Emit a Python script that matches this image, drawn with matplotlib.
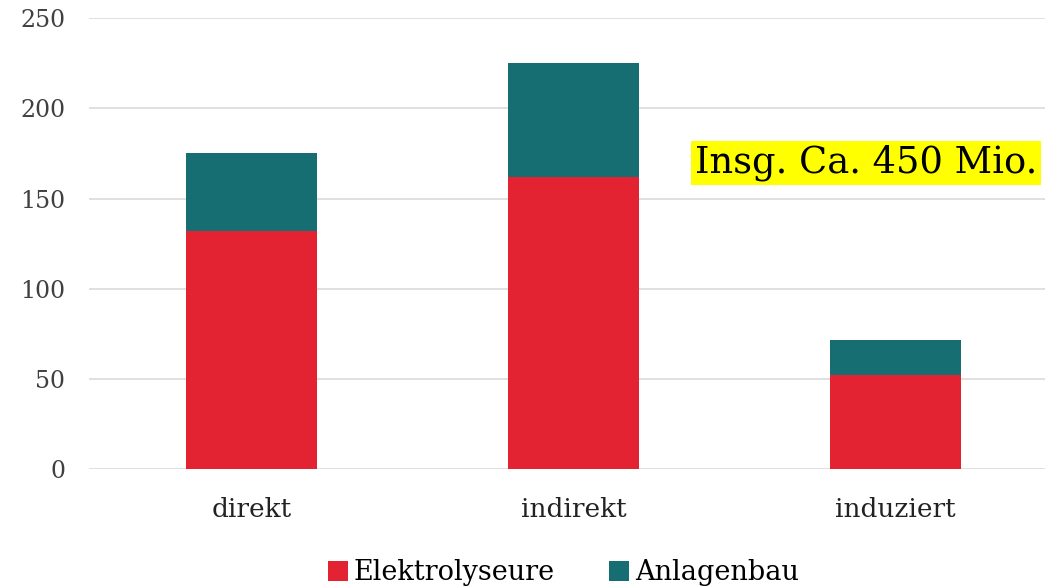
import matplotlib.pyplot as plt
import numpy as np

categories = ['direkt', 'indirekt', 'induziert']
elektrolyseure = [132, 162, 52]
anlagenbau = [43, 63, 19.5]
yticks = [0, 50, 100, 150, 200, 250]

red = '#E32232'
teal = '#176E72'

plt.rcParams['font.family'] = ['DejaVu Serif']

fig = plt.figure(figsize=(10.45, 5.87), dpi=100)
ax = fig.add_axes([0.085, 0.201, 0.915, 0.768])

x = np.arange(len(categories))
ax.bar(x, elektrolyseure, width=0.407, color=red, label='Elektrolyseure', zorder=3)
ax.bar(x, anlagenbau, width=0.407, bottom=elektrolyseure, color=teal,
       label='Anlagenbau', zorder=3)

ax.set_xlim(-0.505, 2.464)
ax.set_ylim(0, 250)
ax.set_yticks(yticks)
ax.set_xticks(x)
ax.set_xticklabels(categories, fontsize=19, color='#222222')
ax.tick_params(axis='y', length=0, pad=17, labelsize=17, labelcolor='#404040')
ax.tick_params(axis='x', length=0, pad=20)
ax.grid(axis='y', color='#dddddd', linewidth=1.3, zorder=0)
for s in ax.spines.values():
    s.set_visible(False)

fig.legend(loc='center', bbox_to_anchor=(0.539, 0.024), ncol=2, frameon=False,
           fontsize=19.5, handlelength=0.75, handleheight=0.75, handletextpad=0.2,
           columnspacing=2.0)

fig.text(0.665, 0.722, 'Insg. Ca. 450 Mio.', fontsize=26.5, ha='left', va='center',
         bbox=dict(boxstyle='square,pad=0.1', facecolor='#FFFF00', edgecolor='none'))

fig.savefig('out.png', dpi=100)
